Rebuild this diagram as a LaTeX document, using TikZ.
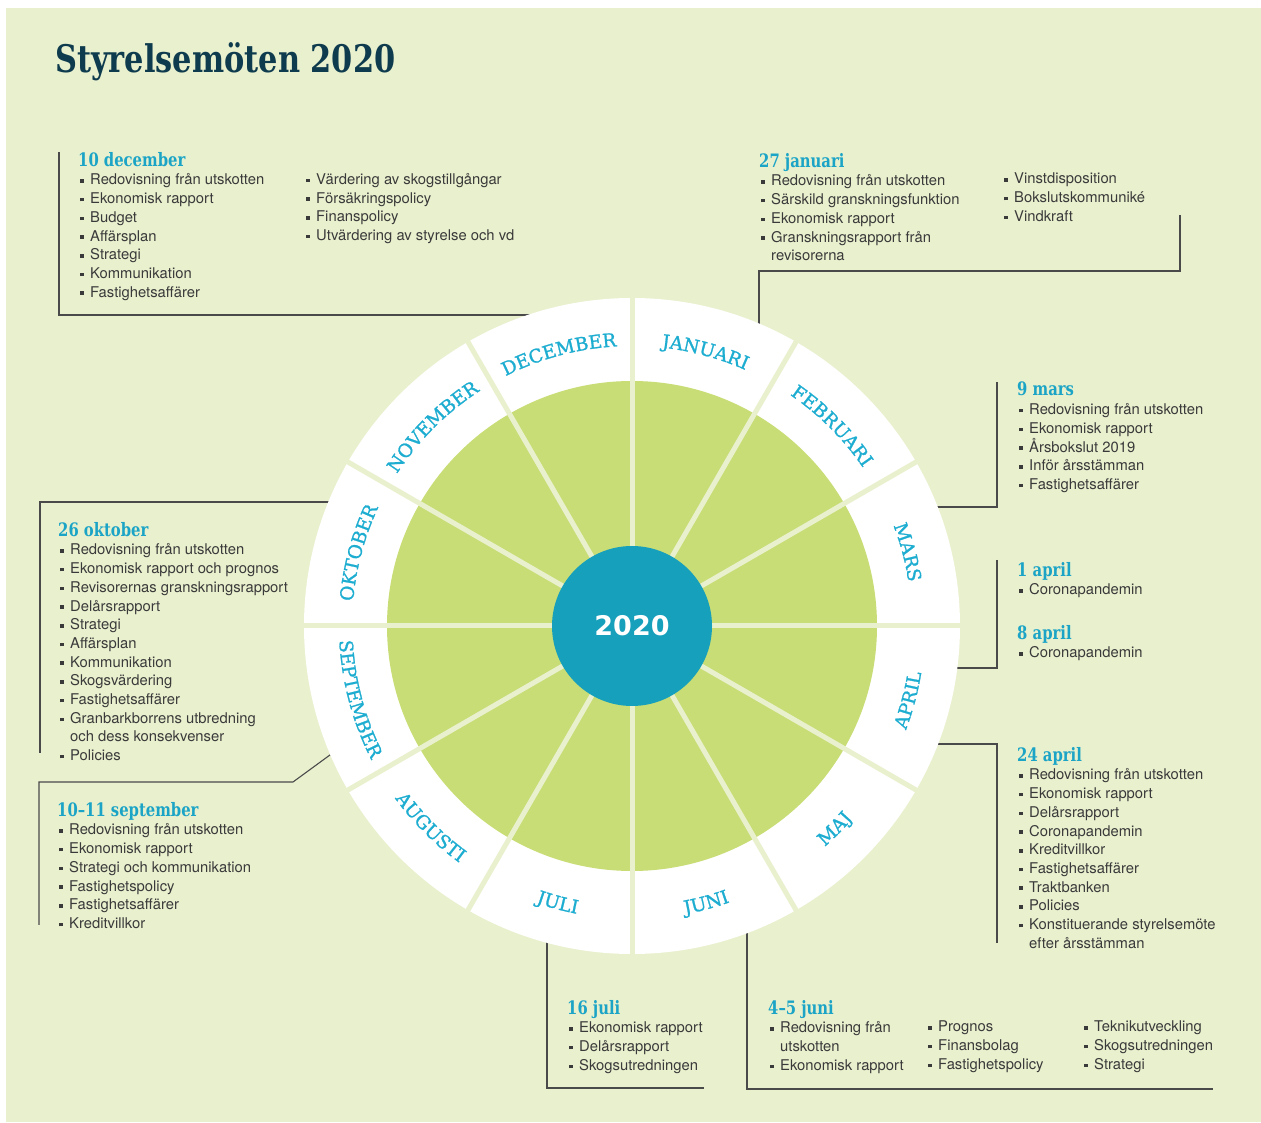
\documentclass[tikz,border=0pt]{standalone}
\usepackage{fontspec}
\setmainfont{TeX Gyre Heros}
\newfontfamily\slabfamily[FakeStretch=0.8]{DejaVu Serif}
\newfontfamily\monthfamily[FakeBold=1.2]{DejaVu Serif}
\newfontfamily\yearfamily{DejaVu Sans}
\usepackage{tikz}
\usetikzlibrary{calc,decorations.text}

\definecolor{bggreen}{HTML}{E9F0CE}
\definecolor{wheelgreen}{HTML}{C8DD76}
\definecolor{yearblue}{HTML}{17A0BC}
\definecolor{monthblue}{HTML}{1DADD1}
\definecolor{dateblue}{HTML}{1BA4C6}
\definecolor{titleteal}{HTML}{0E3B4D}
\definecolor{bodygray}{HTML}{3A3A3A}
\definecolor{linegray}{HTML}{4A4A4A}

\newcommand\bodytext{\fontsize{14.8}{18.7}\selectfont}
\newcommand\monthtext{\monthfamily\fontsize{18.5}{20}\selectfont}
\newcommand\datehead[1]{{\slabfamily\bfseries\fontsize{18.5}{18.7}\selectfont\color{dateblue}#1}}
\newcommand\bul{\hspace*{2pt}\raisebox{2.2pt}{\rule{3.5pt}{3.5pt}}\hspace*{6.5pt}}
\newcommand\cont{\hspace*{12pt}}

\tikzset{
  note/.style={anchor=north west, inner sep=0pt, align=left, font=\bodytext, text=bodygray},
  conn/.style={draw=linegray, line width=1.1pt},
  divider/.style={draw=bggreen, line width=5pt},
  toparc/.style={decorate, decoration={text along path, text align=center, text color=monthblue}},
}

\begin{document}
\begin{tikzpicture}[x=1pt,y=1pt]
  \def\R{328}   % outer ring
  \def\r{245}   % green disc
  \def\rc{80}   % year disc

  % Page and background
  \useasboundingbox (0,0) rectangle (1261,1122);
  \fill[white] (0,0) rectangle (1261,1122);
  \fill[bggreen] (6,0) rectangle (1261,1114);

  % Title
  \node[anchor=base west, inner sep=0pt, font=\slabfamily\bfseries\fontsize{38}{40}\selectfont, text=titleteal] (title) at (55,1049) {Styrelsemöten 2020};

  \coordinate (mid) at (632,496);

  % Connectors (their ring ends are covered by the wheel)
  \coordinate (decA) at (59,970);
  \coordinate (decB) at (560,807);
  \coordinate (janA) at (1180,907);
  \coordinate (janB) at (759,851);
  \coordinate (janC) at (759,780);
  \coordinate (marA) at (997,740);
  \coordinate (marB) at (915,615);
  \coordinate (aprA) at (997,562);
  \coordinate (aprB) at (940,454);
  \coordinate (aprC) at (915,378);
  \coordinate (aprD) at (997,179);
  \coordinate (junA) at (747,200);
  \coordinate (junB) at (1213,33);
  \coordinate (julA) at (547,190);
  \coordinate (julB) at (704,34);
  \coordinate (oktA) at (340,620);
  \coordinate (oktB) at (40,369);
  \coordinate (sepA) at (345,378);
  \coordinate (sepB) at (293,340);
  \coordinate (sepC) at (39,197);

  \draw[conn] (decA) |- (decB);
  \draw[conn] (janA) |- (janB) -- (janC);
  \draw[conn] (marA) |- (marB);
  \draw[conn] (aprA) |- (aprB);
  \draw[conn] (aprC) -| (aprD);
  \draw[conn] (junA) |- (junB);
  \draw[conn] (julA) |- (julB);
  \draw[conn] (oktA) -| (oktB);
  \draw[conn] (sepA) -- (sepB) -| (sepC);

  % Wheel
  \fill[white] (mid) circle (\R);
  \fill[wheelgreen] (mid) circle (\r);
  \draw[divider] ($(mid)+(0:\R+2)$) -- ($(mid)+(180:\R+2)$);
  \draw[divider] ($(mid)+(30:\R+2)$) -- ($(mid)+(210:\R+2)$);
  \draw[divider] ($(mid)+(60:\R+2)$) -- ($(mid)+(240:\R+2)$);
  \draw[divider] ($(mid)+(90:\R+2)$) -- ($(mid)+(270:\R+2)$);
  \draw[divider] ($(mid)+(120:\R+2)$) -- ($(mid)+(300:\R+2)$);
  \draw[divider] ($(mid)+(150:\R+2)$) -- ($(mid)+(330:\R+2)$);
  \fill[yearblue] (mid) circle (\rc);
  \node[font=\yearfamily\bfseries\fontsize{27}{30}\selectfont, text=white] (year) at (mid) {2020};

  % Months, upper half (read clockwise)
  \path[toparc, decoration={text={|\monthtext|JANUARI}}] ($(mid)+(89:280)$) arc[start angle=89, end angle=61, radius=280];
  \path[toparc, decoration={text={|\monthtext|FEBRUARI}}] ($(mid)+(59:280)$) arc[start angle=59, end angle=31, radius=280];
  \path[toparc, decoration={text={|\monthtext|MARS}}] ($(mid)+(29:280)$) arc[start angle=29, end angle=1, radius=280];
  \path[toparc, decoration={text={|\monthtext|DECEMBER}}] ($(mid)+(119:280)$) arc[start angle=119, end angle=91, radius=280];
  \path[toparc, decoration={text={|\monthtext|NOVEMBER}}] ($(mid)+(149:280)$) arc[start angle=149, end angle=121, radius=280];
  \path[toparc, decoration={text={|\monthtext|OKTOBER}}] ($(mid)+(179:280)$) arc[start angle=179, end angle=151, radius=280];
  % Months, lower half (read anticlockwise)
  \path[toparc, decoration={text={|\monthtext|APRIL}}] ($(mid)+(-29:293)$) arc[start angle=-29, end angle=-1, radius=293];
  \path[toparc, decoration={text={|\monthtext|MAJ}}] ($(mid)+(-59:293)$) arc[start angle=-59, end angle=-31, radius=293];
  \path[toparc, decoration={text={|\monthtext|JUNI}}] ($(mid)+(-89:293)$) arc[start angle=-89, end angle=-61, radius=293];
  \path[toparc, decoration={text={|\monthtext|JULI}}] ($(mid)+(-119:293)$) arc[start angle=-119, end angle=-91, radius=293];
  \path[toparc, decoration={text={|\monthtext|AUGUSTI}}] ($(mid)+(-149:293)$) arc[start angle=-149, end angle=-121, radius=293];
  \path[toparc, decoration={text={|\monthtext|SEPTEMBER}}] ($(mid)+(-179:293)$) arc[start angle=-179, end angle=-151, radius=293];

  % Meetings
  \node[note] (dec) at (78,970) {\datehead{10 december}\\
    \bul Redovisning från utskotten\\
    \bul Ekonomisk rapport\\
    \bul Budget\\
    \bul Affärsplan\\
    \bul Strategi\\
    \bul Kommunikation\\
    \bul Fastighetsaffärer};
  \node[note] (decx) at (304,949) {\bul Värdering av skogstillgångar\\
    \bul Försäkringspolicy\\
    \bul Finanspolicy\\
    \bul Utvärdering av styrelse och vd};

  \node[note] (jan) at (759,969) {\datehead{27 januari}\\
    \bul Redovisning från utskotten\\
    \bul Särskild granskningsfunktion\\
    \bul Ekonomisk rapport\\
    \bul Granskningsrapport från\\
    \cont revisorerna};
  \node[note] (janx) at (1002,949) {\bul Vinstdisposition\\
    \bul Bokslutskommuniké\\
    \bul Vindkraft};

  \node[note] (mar) at (1017,740) {\datehead{9 mars}\\
    \bul Redovisning från utskotten\\
    \bul Ekonomisk rapport\\
    \bul Årsbokslut 2019\\
    \bul Inför årsstämman\\
    \bul Fastighetsaffärer};

  \node[note] (apr1) at (1017,560) {\datehead{1 april}\\
    \bul Coronapandemin};
  \node[note] (apr8) at (1017,497) {\datehead{8 april}\\
    \bul Coronapandemin};
  \node[note] (apr24) at (1017,375) {\datehead{24 april}\\
    \bul Redovisning från utskotten\\
    \bul Ekonomisk rapport\\
    \bul Delårsrapport\\
    \bul Coronapandemin\\
    \bul Kreditvillkor\\
    \bul Fastighetsaffärer\\
    \bul Traktbanken\\
    \bul Policies\\
    \bul Konstituerande styrelsemöte\\
    \cont efter årsstämman};

  \node[note] (jun) at (768,122) {\datehead{4–5 juni}\\
    \bul Redovisning från\\
    \cont utskotten\\
    \bul Ekonomisk rapport};
  \node[note] (junx) at (926,101) {\bul Prognos\\
    \bul Finansbolag\\
    \bul Fastighetspolicy};
  \node[note] (juny) at (1082,101) {\bul Teknikutveckling\\
    \bul Skogsutredningen\\
    \bul Strategi};

  \node[note] (jul) at (567,122) {\datehead{16 juli}\\
    \bul Ekonomisk rapport\\
    \bul Delårsrapport\\
    \bul Skogsutredningen};

  \node[note] (sep) at (57,320) {\datehead{10–11 september}\\
    \bul Redovisning från utskotten\\
    \bul Ekonomisk rapport\\
    \bul Strategi och kommunikation\\
    \bul Fastighetspolicy\\
    \bul Fastighetsaffärer\\
    \bul Kreditvillkor};

  \node[note] (okt) at (58,600) {\datehead{26 oktober}\\
    \bul Redovisning från utskotten\\
    \bul Ekonomisk rapport och prognos\\
    \bul Revisorernas granskningsrapport\\
    \bul Delårsrapport\\
    \bul Strategi\\
    \bul Affärsplan\\
    \bul Kommunikation\\
    \bul Skogsvärdering\\
    \bul Fastighetsaffärer\\
    \bul Granbarkborrens utbredning\\
    \cont och dess konsekvenser\\
    \bul Policies};
\end{tikzpicture}
\end{document}
